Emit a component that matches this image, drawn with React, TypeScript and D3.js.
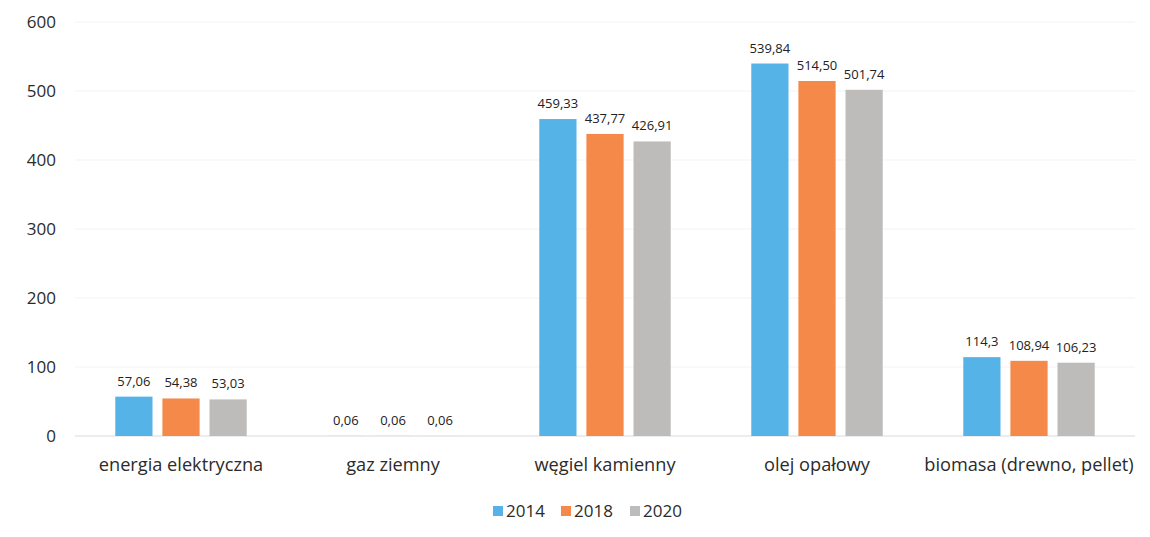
import React from "react";
import * as d3 from "d3";

const categories = ["energia elektryczna", "gaz ziemny", "węgiel kamienny", "olej opałowy", "biomasa (drewno, pellet)"];
const years = ["2014", "2018", "2020"];
const values2014 = [57.06, 0.06, 459.33, 539.84, 114.3];
const values2018 = [54.38, 0.06, 437.77, 514.5, 108.94];
const values2020 = [53.03, 0.06, 426.91, 501.74, 106.23];
const labels2014 = ["57,06", "0,06", "459,33", "539,84", "114,3"];
const labels2018 = ["54,38", "0,06", "437,77", "514,50", "108,94"];
const labels2020 = ["53,03", "0,06", "426,91", "501,74", "106,23"];
const yTicks = [0, 100, 200, 300, 400, 500, 600];
const colors = ["#55b3e8", "#f5894a", "#bebcba"];

const series = [
  { year: years[0], values: values2014, labels: labels2014 },
  { year: years[1], values: values2018, labels: labels2018 },
  { year: years[2], values: values2020, labels: labels2020 },
];

export default function App() {
  const W = 1150, H = 537;
  const left = 75, right = 1135, top = 22, bottom = 436;
  const x0 = d3.scaleBand().domain(categories).range([left, right]).paddingInner(0.38).paddingOuter(0.19);
  const x1 = d3.scaleBand().domain(years).range([0, x0.bandwidth()]).paddingInner(0.21).paddingOuter(0);
  const y = d3.scaleLinear().domain([0, 600]).range([bottom, top]);
  const font = "'Open Sans', 'Noto Sans', sans-serif";
  const legendX = [493, 561, 630];

  return (
    <svg width={W} height={H} style={{ position: "absolute", left: 0, top: 0, background: "#fff" }} fontFamily={font}>
      {yTicks.map((t) => (
        <g key={t}>
          <line x1={left} x2={right} y1={y(t)} y2={y(t)} stroke={t === 0 ? "#d9d9d9" : "#f3f3f3"} strokeWidth={1} />
          <text x={56} y={y(t)} dy="0.35em" textAnchor="end" fontSize={17} fill="#2b2b2b">{t}</text>
        </g>
      ))}
      {series.map((s, si) => (
        <g key={s.year}>
          {categories.map((c, ci) => {
            const bx = (x0(c) ?? 0) + (x1(s.year) ?? 0);
            const by = y(s.values[ci]);
            return (
              <g key={c}>
                <rect x={bx} y={by} width={x1.bandwidth()} height={bottom - by} fill={colors[si]} />
                <text x={bx + x1.bandwidth() / 2} y={by - 11} textAnchor="middle" fontSize={13} fill="#222">{s.labels[ci]}</text>
              </g>
            );
          })}
        </g>
      ))}
      {categories.map((c) => (
        <text key={c} x={(x0(c) ?? 0) + x0.bandwidth() / 2} y={471} textAnchor="middle" fontSize={18.2} fill="#2b2b2b">{c}</text>
      ))}
      {years.map((yr, i) => (
        <g key={yr}>
          <rect x={legendX[i]} y={506} width={10} height={10} fill={colors[i]} />
          <text x={legendX[i] + 13} y={517} fontSize={17} fill="#2b2b2b">{yr}</text>
        </g>
      ))}
    </svg>
  );
}
